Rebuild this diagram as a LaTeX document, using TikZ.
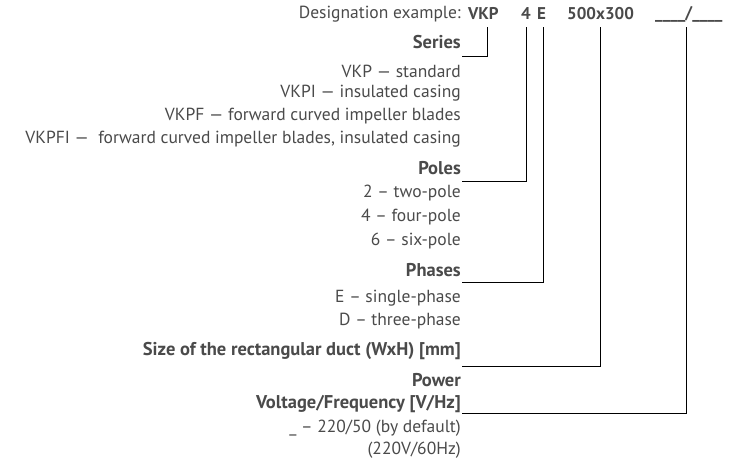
\documentclass[tikz,border=0pt]{standalone}
\usepackage{fontspec}
\setmainfont{PT Sans}
\begin{document}
\begin{tikzpicture}[x=1pt,y=-1pt,
  every node/.style={inner sep=0pt,text=txt,font=\fontsize{17.5}{20}\selectfont},
  lab/.style={anchor=east},
  bl/.style={anchor=east,font=\fontsize{18.5}{20}\selectfont\bfseries},
  code/.style={anchor=west,font=\fontsize{17}{20}\selectfont\bfseries},
  con/.style={line width=0.9pt,black}]
\definecolor{txt}{HTML}{4A4A4A}
\useasboundingbox (0,0) rectangle (739,466);
\node[lab] (d) at (461,14) {Designation example:};
\node[code] (c1) at (468,14) {VKP};
\node[code] (c2) at (521,14) {4};
\node[code] (c3) at (537,14) {E};
\node[code] (c4) at (567,14) {500x300};
\node[code] (c5) at (655,14) {\_\_\_\_/\_\_\_\_};
\node[bl] (series) at (461,42) {Series};
\node[lab] at (461,71) {VKP — standard};
\node[lab] at (461,93) {VKPI — insulated casing};
\node[lab] at (461,116) {VKPF — forward curved impeller blades};
\node[lab] at (461,139) {VKPFI —\ \ forward curved impeller blades, insulated casing};
\node[bl] (poles) at (461,168) {Poles};
\node[lab] at (461,193) {2 – two-pole};
\node[lab] at (461,217) {4 – four-pole};
\node[lab] at (461,241) {6 – six-pole};
\node[bl] (phases) at (461,270) {Phases};
\node[lab] at (461,298) {E – single-phase};
\node[lab] at (461,321) {D – three-phase};
\node[bl] (size) at (461,351) {Size of the rectangular duct (WxH) [mm]};
\node[bl] (power) at (461,380) {Power};
\node[bl] (volt) at (461,404) {Voltage/Frequency [V/Hz]};
\node[lab] at (461,428) {\_ – 220/50 (by default)};
\node[lab] at (461,450) {(220V/60Hz)};
\coordinate (k1) at (487,27); \coordinate (e1) at (462,56);
\coordinate (k2) at (526,27); \coordinate (e2) at (462,181);
\coordinate (k3) at (543,27); \coordinate (e3) at (462,282);
\coordinate (k4) at (600,27); \coordinate (e4) at (462,366);
\coordinate (k5) at (686,27); \coordinate (e5) at (462,413);
\draw[con] (k1) |- (e1);
\draw[con] (k2) |- (e2);
\draw[con] (k3) |- (e3);
\draw[con] (k4) |- (e4);
\draw[con] (k5) |- (e5);
\end{tikzpicture}
\end{document}
